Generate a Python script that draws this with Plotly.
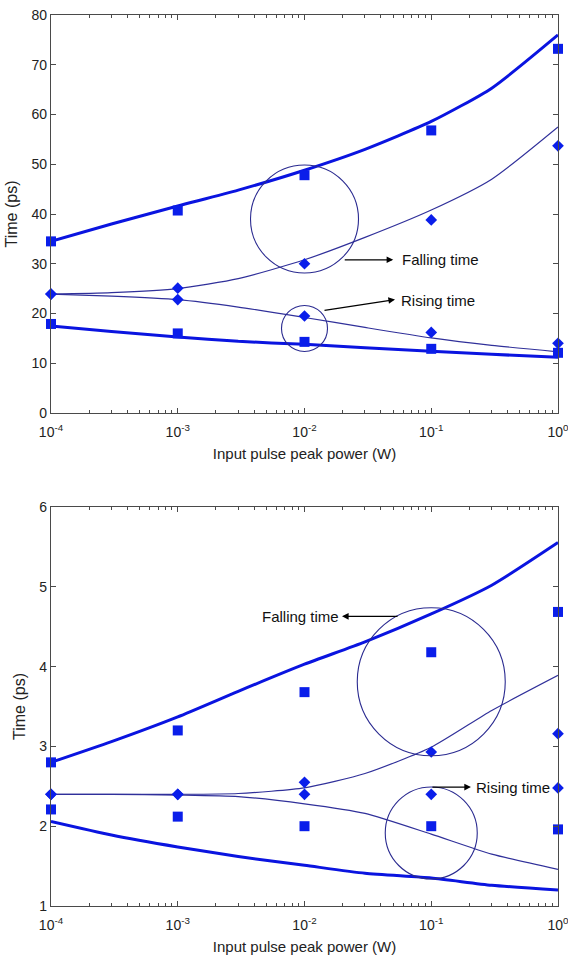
import math
import plotly.graph_objects as go

# ---------------- data ----------------
power_fine = [1e-4, 3e-4, 1e-3, 3e-3, 1e-2, 3e-2, 1e-1, 3e-1, 1.0]
power_pts = [1e-4, 1e-3, 1e-2, 1e-1, 1.0]

x_tickvals = [1e-4, 1e-3, 1e-2, 1e-1, 1.0]
x_ticktext = ["10<sup>-4</sup>", "10<sup>-3</sup>", "10<sup>-2</sup>", "10<sup>-1</sup>", "10<sup>0</sup>"]

# top panel (simulated curves)
top_fall_thick = [34.5, 38.0, 41.6, 44.8, 48.8, 53.0, 58.6, 65.3, 76.0]
top_fall_thin = [23.9, 24.2, 25.0, 27.0, 30.8, 35.3, 40.8, 47.0, 57.5]
top_rise_thin = [23.9, 23.5, 22.8, 21.3, 19.2, 17.2, 15.1, 13.6, 12.3]
top_rise_thick = [17.5, 16.4, 15.3, 14.4, 13.8, 13.1, 12.4, 11.8, 11.2]
# top panel (points)
top_fall_sq = [34.5, 40.7, 47.8, 56.8, 73.2]
top_rise_sq = [17.9, 16.0, 14.3, 12.9, 12.1]
top_fall_dm = [23.9, 25.1, 30.0, 38.8, 53.7]
top_rise_dm = [23.9, 22.8, 19.5, 16.2, 14.0]

# bottom panel (simulated curves)
bot_fall_thick = [2.80, 3.06, 3.37, 3.69, 4.03, 4.31, 4.66, 5.02, 5.555]
bot_fall_thin = [2.40, 2.40, 2.40, 2.41, 2.48, 2.66, 2.99, 3.45, 3.89]
bot_rise_thin = [2.40, 2.40, 2.39, 2.37, 2.28, 2.16, 1.90, 1.65, 1.46]
bot_rise_thick = [2.06, 1.89, 1.74, 1.62, 1.51, 1.41, 1.35, 1.26, 1.20]
# bottom panel (points)
bot_fall_sq = [2.80, 3.20, 3.68, 4.18, 4.685]
bot_rise_sq = [2.21, 2.12, 2.00, 2.00, 1.96]
bot_fall_dm = [2.40, 2.40, 2.55, 2.93, 3.16]
bot_rise_dm = [2.40, 2.40, 2.40, 2.40, 2.48]

top_yticks = [0, 10, 20, 30, 40, 50, 60, 70, 80]
bot_yticks = [1, 2, 3, 4, 5, 6]

# ---------------- styles / layout ----------------
THICK = "#0a14e0"
THIN = "#30309a"
MARK = "#0a1eea"
CIRC = "#2a2a90"
AXC = "#4a4a4a"
FONT = "Liberation Sans, Arial, sans-serif"

W, H = 568, 956
ML, MR, MT, MB = 51, 10, 15, 50
PW, PH = W - ML - MR, H - MT - MB
X_RANGE = [-4, 0]
TOP_DOM, TOP_RANGE = [0.5533, 1.0], [0, 80]
BOT_DOM, BOT_RANGE = [0.0, 0.4478], [1, 6]

fig = go.Figure()


def add_panel(xa, ya, thick_f, thin_f, thin_r, thick_r, sq_f, sq_r, dm_f, dm_r):
    for ys, w, c in [(thick_f, 3, THICK), (thick_r, 3, THICK), (thin_f, 1.2, THIN), (thin_r, 1.2, THIN)]:
        fig.add_trace(go.Scatter(x=power_fine, y=ys, mode="lines", xaxis=xa, yaxis=ya,
                                 line=dict(color=c, width=w, shape="spline", smoothing=0.6),
                                 showlegend=False, hoverinfo="skip"))
    for ys, sym, sz in [(sq_f, "square", 10), (sq_r, "square", 10), (dm_f, "diamond", 9), (dm_r, "diamond", 9)]:
        fig.add_trace(go.Scatter(x=power_pts, y=ys, mode="markers", xaxis=xa, yaxis=ya,
                                 marker=dict(symbol=sym, size=sz, color=MARK, line=dict(width=0)),
                                 cliponaxis=False, showlegend=False))


add_panel("x", "y", top_fall_thick, top_fall_thin, top_rise_thin, top_rise_thick,
          top_fall_sq, top_rise_sq, top_fall_dm, top_rise_dm)
add_panel("x2", "y2", bot_fall_thick, bot_fall_thin, bot_rise_thin, bot_rise_thick,
          bot_fall_sq, bot_rise_sq, bot_fall_dm, bot_rise_dm)

xaxis_common = dict(
    type="log", range=X_RANGE, tickvals=x_tickvals, ticktext=x_ticktext, automargin=False,
    showline=True, linecolor=AXC, linewidth=1.3, mirror="ticks",
    ticks="inside", ticklen=5, tickcolor=AXC, showgrid=False, zeroline=False,
    tickfont=dict(family=FONT, size=14, color="#222"), ticklabelstandoff=6,
    ticklabeloverflow="allow",
    minor=dict(ticks="inside", ticklen=3, tickcolor=AXC, dtick="D1", showgrid=False),
    title=dict(text="Input pulse peak power (W)", font=dict(family=FONT, size=15, color="#222"), standoff=9),
)
yaxis_common = dict(
    showline=True, linecolor=AXC, linewidth=1.3, mirror="ticks", automargin=False,
    ticks="inside", ticklen=5, tickcolor=AXC, showgrid=False, zeroline=False,
    tickfont=dict(family=FONT, size=14, color="#222"), ticklabeloverflow="allow",
    title=dict(text="Time (ps)", font=dict(family=FONT, size=16, color="#222"), standoff=9),
)

fig.update_layout(
    width=W, height=H,
    margin=dict(l=ML, r=MR, t=MT, b=MB, autoexpand=False),
    paper_bgcolor="white", plot_bgcolor="white",
    xaxis=dict(**xaxis_common, anchor="y", domain=[0, 1]),
    yaxis=dict(**yaxis_common, anchor="x", domain=TOP_DOM, range=TOP_RANGE, tickvals=top_yticks),
    xaxis2=dict(**xaxis_common, anchor="y2", domain=[0, 1]),
    yaxis2=dict(**yaxis_common, anchor="x2", domain=BOT_DOM, range=BOT_RANGE, tickvals=bot_yticks),
)


def circle(dom, rng, xc, yc, r):
    """Round circle of radius r px centred on data point (xc, yc), placed in paper units."""
    xp = (math.log10(xc) - X_RANGE[0]) / (X_RANGE[1] - X_RANGE[0])
    yp = dom[0] + (yc - rng[0]) / (rng[1] - rng[0]) * (dom[1] - dom[0])
    dx, dy = r / PW, r / PH
    fig.add_shape(type="circle", xref="paper", yref="paper",
                  x0=xp - dx, x1=xp + dx, y0=yp - dy, y1=yp + dy,
                  line=dict(color=CIRC, width=1.1))


circle(TOP_DOM, TOP_RANGE, 1e-2, 39.0, 54)
circle(TOP_DOM, TOP_RANGE, 1e-2, 17.0, 23)
circle(BOT_DOM, BOT_RANGE, 1e-1, 3.81, 74)
circle(BOT_DOM, BOT_RANGE, 1e-1, 1.915, 46)


def arrow(xref, yref, xhead_log, yhead, ax, ay):
    fig.add_annotation(xref=xref, yref=yref, x=xhead_log, y=yhead, ax=ax, ay=ay,
                       axref="pixel", ayref="pixel", text="", showarrow=True,
                       arrowhead=2, arrowsize=1.1, arrowwidth=1.2, arrowcolor="black")


def label(xref, yref, xlog, y, txt, anchor):
    fig.add_annotation(xref=xref, yref=yref, x=xlog, y=y, text=txt, showarrow=False,
                       xanchor=anchor, yanchor="middle",
                       font=dict(family=FONT, size=15, color="#111"))


# top panel annotations
arrow("x", "y", -1.30, 30.8, -50, 0)
label("x", "y", -1.25, 30.8, "Falling time", "left")
arrow("x", "y", -1.286, 22.8, -72, 11)
label("x", "y", -1.255, 22.7, "Rising time", "left")

# bottom panel annotations
arrow("x2", "y2", -1.704, 4.63, 57, 0)
label("x2", "y2", -1.715, 4.63, "Falling time", "right")
arrow("x2", "y2", -0.687, 2.49, -40, 0)
label("x2", "y2", -0.665, 2.49, "Rising time", "left")

fig.write_html("out.html")
